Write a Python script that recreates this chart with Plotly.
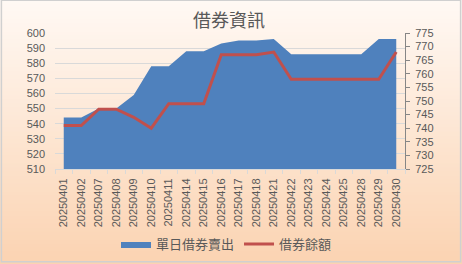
import plotly.graph_objects as go

dates = ["20250401", "20250402", "20250407", "20250408", "20250409", "20250410",
         "20250411", "20250414", "20250415", "20250416", "20250417", "20250418",
         "20250421", "20250422", "20250423", "20250424", "20250425", "20250428",
         "20250429", "20250430"]
daily_short_sell = [544, 544, 550, 550, 559, 578, 578, 588, 588, 593, 595, 595,
                    596, 586, 586, 586, 586, 586, 596, 596]
lending_balance = [741, 741, 747, 747, 744, 740, 749, 749, 749, 767, 767, 767,
                   768, 758, 758, 758, 758, 758, 758, 768]

left_ticks = list(range(510, 601, 10))
right_ticks = list(range(725, 776, 5))

W, H = 462, 264
ml, mr, mt, mb = 54.5, 56.5, 33.3, 95
pw = W - ml - mr
ph = H - mt - mb


def py(p):
    return (H - mb - p) / ph


def px(p):
    return (p - ml) / pw


fig = go.Figure()

fig.add_trace(go.Scatter(
    x=dates, y=daily_short_sell, name="單日借券賣出", mode="lines",
    fill="tozeroy", fillcolor="#4F81BD", line=dict(width=0, color="#4F81BD"),
    yaxis="y", hoverinfo="skip"))
fig.add_trace(go.Scatter(
    x=dates, y=lending_balance, name="借券餘額", mode="lines",
    line=dict(width=3, color="#C0504D"), yaxis="y2"))

# background gradient (Excel-like peach)
shapes = []
n = 66
c0 = (255, 249, 244)
c1 = (251, 211, 178)
step = H / n
for i in range(n):
    t = i / (n - 1)
    c = tuple(round(c0[k] + (c1[k] - c0[k]) * t) for k in range(3))
    shapes.append(dict(type="rect", xref="paper", yref="paper", layer="below",
                       x0=px(-2), x1=px(W + 2),
                       y1=py(i * step - 0.5), y0=py((i + 1) * step + 0.5),
                       line=dict(width=0), fillcolor="rgb(%d,%d,%d)" % c))

# border around chart
shapes.append(dict(type="rect", xref="paper", yref="paper", layer="above",
                   x0=px(0.75), x1=px(W - 0.75), y0=py(H - 2.5), y1=py(0.5),
                   line=dict(width=1.5, color="#D0D0D0"), fillcolor="rgba(0,0,0,0)"))

tickfont = dict(family="Liberation Sans, Arial", size=11, color="#595959")

fig.update_layout(
    width=W, height=H,
    margin=dict(l=ml, r=mr, t=mt, b=mb, autoexpand=False),
    paper_bgcolor="rgba(0,0,0,0)",
    plot_bgcolor="rgba(0,0,0,0)",
    shapes=shapes,
    title=dict(text="借券資訊", x=229 / W, xanchor="center", y=1 - 21 / H, yanchor="middle",
               font=dict(family="Noto Sans CJK TC", size=18, color="#595959")),
    xaxis=dict(type="category", range=[-0.5, len(dates) - 0.5], tickangle=-90,
               tickfont=tickfont, showgrid=False, showline=True, linecolor="#D9D9D9",
               linewidth=1, ticks="outside", tickson="boundaries", ticklen=4,
               tickcolor="#D9D9D9", zeroline=False, automargin=False,
               ticklabelstandoff=4),
    yaxis=dict(range=[510, 600], tickvals=left_ticks, tickfont=tickfont,
               showgrid=True, gridcolor="#D9D9D9", gridwidth=1, zeroline=False,
               showline=False, ticks="", ticklabelstandoff=9, automargin=False),
    yaxis2=dict(range=[725, 775], tickvals=right_ticks, tickfont=tickfont,
                overlaying="y", side="right", showgrid=False, zeroline=False,
                showline=True, linecolor="#868686", linewidth=1, ticks="outside",
                ticklen=4, tickcolor="#868686", automargin=False,
                ticklabelstandoff=3),
    legend=dict(orientation="h", x=0.49, xanchor="center", y=py(244), yanchor="middle",
                font=dict(family="Noto Sans CJK TC", size=13, color="#595959"),
                bgcolor="rgba(0,0,0,0)", itemwidth=30),
    showlegend=True,
)

fig.write_html("out.html")
